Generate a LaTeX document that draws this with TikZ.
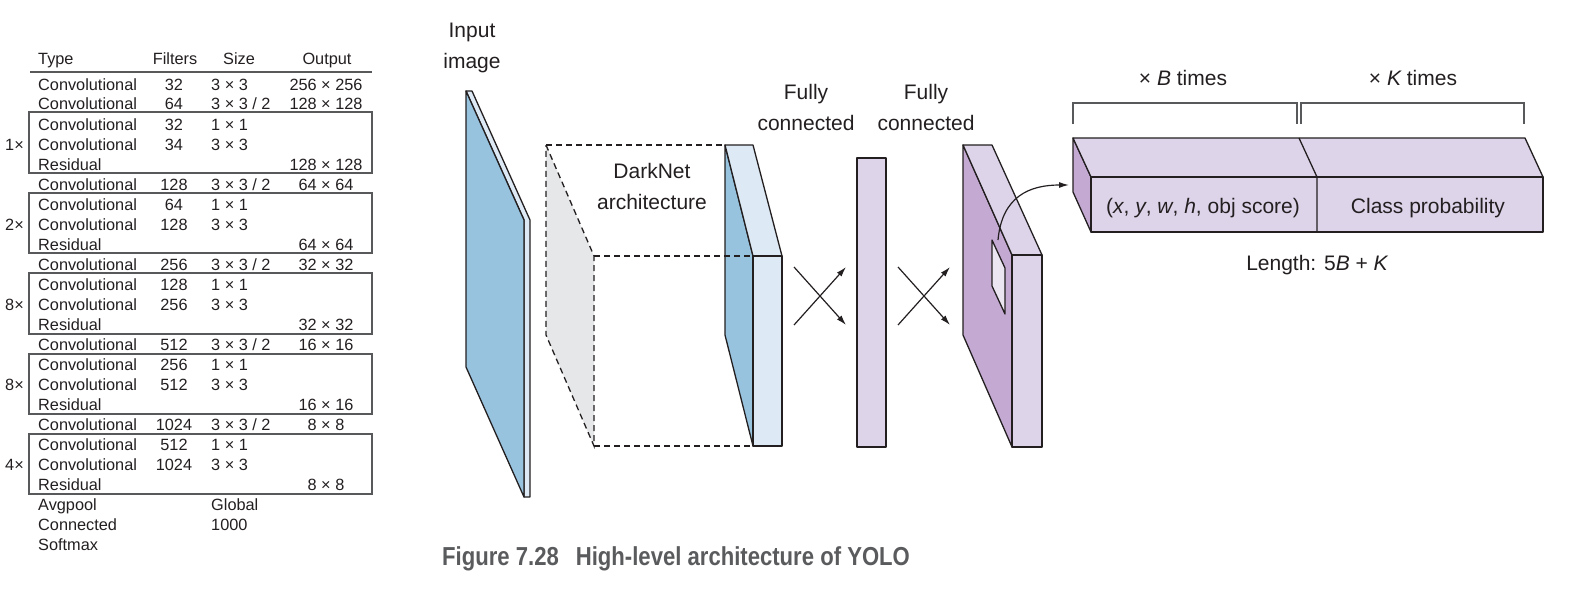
\documentclass[tikz,border=0pt]{standalone}
\usepackage{fontspec}
\setmainfont{Liberation Sans}
\newfontfamily\capfont[FakeStretch=0.85]{Liberation Sans}
\usetikzlibrary{arrows.meta}

\definecolor{inkgray}{HTML}{231F20}
\definecolor{rulegray}{HTML}{58595B}
\definecolor{capgray}{HTML}{5A5B5D}
\definecolor{imgblue}{HTML}{97C3DF}
\definecolor{paleblue}{HTML}{DDE9F4}
\definecolor{shadegray}{HTML}{E6E7E8}
\definecolor{lavender}{HTML}{DDD4EA}
\definecolor{plum}{HTML}{C4AAD3}

\begin{document}
\begin{tikzpicture}[x=1pt, y=-1pt,
  tabtext/.style={inner sep=0pt, text=inkgray, font=\fontsize{16.3}{20}\selectfont},
  lbl/.style={inner sep=0pt, align=center, text=inkgray, font=\fontsize{21}{31}\selectfont},
  slab/.style={draw=inkgray, line width=1.3pt, line join=round},
  dashline/.style={draw=inkgray, line width=1.3pt, dash pattern=on 6pt off 4pt},
  xarrow/.style={draw=inkgray, line width=1.2pt, -{Latex[length=10pt, width=6pt]}},
  bracket/.style={draw=rulegray, line width=1.4pt}]

\useasboundingbox (0,0) rectangle (1572,602);

% Table header
\node[tabtext, anchor=base west] (hType) at (38,65) {Type};
\node[tabtext, anchor=base] (hFilt) at (175,65) {Filters};
\node[tabtext, anchor=base] (hSize) at (239,65) {Size};
\node[tabtext, anchor=base] (hOut) at (327,65) {Output};
\draw[rulegray, line width=1.3pt] (30,72) -- (372,72);

% Table rows
\foreach \rtype/\rfilt/\rsize/\rout [count=\i] in {
  Convolutional/32/3 × 3/256 × 256,
  Convolutional/64/{3 × 3 / 2}/128 × 128,
  Convolutional/32/1 × 1/{},
  Convolutional/34/3 × 3/{},
  Residual/{}/{}/128 × 128,
  Convolutional/128/{3 × 3 / 2}/64 × 64,
  Convolutional/64/1 × 1/{},
  Convolutional/128/3 × 3/{},
  Residual/{}/{}/64 × 64,
  Convolutional/256/{3 × 3 / 2}/32 × 32,
  Convolutional/128/1 × 1/{},
  Convolutional/256/3 × 3/{},
  Residual/{}/{}/32 × 32,
  Convolutional/512/{3 × 3 / 2}/16 × 16,
  Convolutional/256/1 × 1/{},
  Convolutional/512/3 × 3/{},
  Residual/{}/{}/16 × 16,
  Convolutional/1024/{3 × 3 / 2}/8 × 8,
  Convolutional/512/1 × 1/{},
  Convolutional/1024/3 × 3/{},
  Residual/{}/{}/8 × 8,
  Avgpool/{}/Global/{},
  Connected/{}/1000/{},
  Softmax/{}/{}/{}}
{
  \node[tabtext, anchor=base west] (t\i) at (38,70+20*\i) {\rtype};
  \node[tabtext, anchor=base] (f\i) at (174,70+20*\i) {\rfilt};
  \node[tabtext, anchor=base west] (s\i) at (211,70+20*\i) {\rsize};
  \node[tabtext, anchor=base] (o\i) at (326,70+20*\i) {\rout};
}

% Residual blocks
\draw[rulegray, line width=1.3pt] (29,112) rectangle (372,173);
\draw[rulegray, line width=1.3pt] (29,193) rectangle (372,253);
\draw[rulegray, line width=1.3pt] (29,273) rectangle (372,334);
\draw[rulegray, line width=1.3pt] (29,354) rectangle (372,414);
\draw[rulegray, line width=1.3pt] (29,434) rectangle (372,494);
\node[tabtext, anchor=base east] (rep1) at (24,150) {1×};
\node[tabtext, anchor=base east] (rep2) at (24,230) {2×};
\node[tabtext, anchor=base east] (rep3) at (24,310) {8×};
\node[tabtext, anchor=base east] (rep4) at (24,390) {8×};
\node[tabtext, anchor=base east] (rep5) at (24,470) {4×};

% Input image slab
\node[lbl, anchor=base] (inlbl) at (472,69) {Input\\image};
\filldraw[slab, fill=paleblue] (466,91) -- (472,91) -- (530,220) -- (530,497) -- (524,497) -- (524,220) -- cycle;
\filldraw[slab, fill=imgblue] (466,91) -- (524,220) -- (524,497) -- (466,367) -- cycle;

% DarkNet box - dashed back face
\filldraw[dashline, fill=shadegray] (546,145) -- (594,256) -- (594,446) -- (546,335) -- cycle;
\draw[dashline] (546,145) -- (725,145);
\node[lbl, anchor=base] (dklbl) at (652,209) {DarkNet\\architecture};

% DarkNet output slab
\filldraw[slab, fill=imgblue] (725,145) -- (753,256) -- (753,446) -- (725,335) -- cycle;
\filldraw[slab, fill=paleblue] (725,145) -- (753,145) -- (782,256) -- (753,256) -- cycle;
\filldraw[slab, fill=paleblue] (753,256) rectangle (782,446);
\draw[dashline] (594,256) -- (753,256);
\draw[dashline] (594,446) -- (753,446);

% Fully connected layers
\node[lbl, anchor=base] (fc1lbl) at (806,130) {Fully\\connected};
\node[lbl, anchor=base] (fc2lbl) at (926,130) {Fully\\connected};
\filldraw[slab, fill=lavender] (857,158) rectangle (886,447);

\coordinate (xa) at (794,267);
\coordinate (xb) at (846,325);
\coordinate (xc) at (794,325);
\coordinate (xd) at (846,267);
\draw[xarrow] (xa) -- (xb);
\draw[xarrow] (xc) -- (xd);

\coordinate (ya) at (898,267);
\coordinate (yb) at (950,325);
\coordinate (yc) at (898,325);
\coordinate (yd) at (950,267);
\draw[xarrow] (ya) -- (yb);
\draw[xarrow] (yc) -- (yd);

% Output grid slab
\filldraw[slab, fill=plum] (963,145) -- (1012,255) -- (1012,447) -- (963,335) -- cycle;
\filldraw[slab, fill=lavender] (963,145) -- (992,145) -- (1042,255) -- (1012,255) -- cycle;
\filldraw[slab, fill=lavender] (1012,255) rectangle (1042,447);
\filldraw[slab, fill=lavender!60!white] (992,240) -- (1005,268) -- (1005,314) -- (992,286) -- cycle;

% Output vector
\filldraw[slab, fill=plum] (1073,138) -- (1091,177) -- (1091,232) -- (1073,192) -- cycle;
\filldraw[slab, fill=lavender] (1073,138) -- (1525,138) -- (1543,177) -- (1091,177) -- cycle;
\filldraw[slab, fill=lavender] (1091,177) rectangle (1543,232);
\draw[slab] (1299,138) -- (1317,177) -- (1317,232);
\node[lbl, anchor=base] (boxlbl) at (1203,213) {({\itshape x}, {\itshape y}, {\itshape w}, {\itshape h}, obj score)};
\node[lbl, anchor=base] (clslbl) at (1428,213) {Class probability};

% cell to vector
\coordinate (cell) at (998,240);
\coordinate (vecin) at (1069,185);
\draw[xarrow] (cell) .. controls (1002,196) and (1030,185) .. (vecin);

% Brackets
\draw[bracket] (1073,124) -- (1073,103) -- (1297,103) -- (1297,124);
\draw[bracket] (1301,124) -- (1301,103) -- (1524,103) -- (1524,124);
\node[lbl, anchor=base] (blbl) at (1183,85) {× {\itshape B} times};
\node[lbl, anchor=base] (klbl) at (1413,85) {× {\itshape K} times};
\node[lbl, anchor=base] (lenlbl) at (1317,270) {Length: 5{\itshape B} + {\itshape K}};

% Caption
\node[anchor=base west, inner sep=0pt, text=capgray, font=\capfont\bfseries\fontsize{26}{30}\selectfont] (caption) at (442,565) {Figure 7.28\hspace{17pt}High-level architecture of YOLO};

\end{tikzpicture}
\end{document}
